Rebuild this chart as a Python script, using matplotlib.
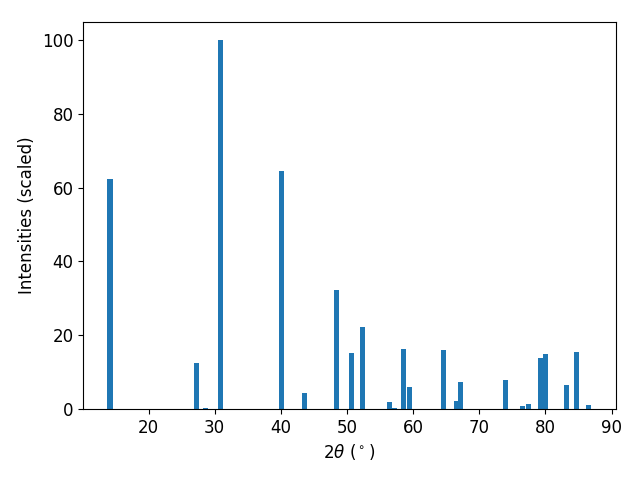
import numpy as np
import matplotlib
matplotlib.use("Agg")
import matplotlib.pyplot as plt

two_theta = [14.18, 27.29, 28.65, 30.92, 40.06, 43.62, 48.38, 50.72, 52.31,
             56.47, 57.22, 58.58, 59.49, 64.63, 66.52, 67.20, 74.01, 76.58,
             77.48, 79.30, 80.05, 83.15, 84.67, 86.56]
intensity = [62.3, 12.5, 0.3, 100.0, 64.5, 4.3, 32.2, 15.2, 22.2,
             1.9, 0.3, 16.3, 5.9, 16.0, 2.2, 7.3, 7.9, 0.8, 1.4,
             13.8, 14.9, 6.5, 15.5, 1.1]

plt.rcParams['font.size'] = 12

fig, ax = plt.subplots(figsize=(6.4, 4.8), dpi=100)
ax.bar(two_theta, intensity, width=0.8)
ax.set_xlabel(r'2$\theta$ ($^\circ$)')
ax.set_ylabel('Intensities (scaled)')
fig.subplots_adjust(left=0.13, right=0.962, top=0.955, bottom=0.148)
fig.savefig('out.png')
